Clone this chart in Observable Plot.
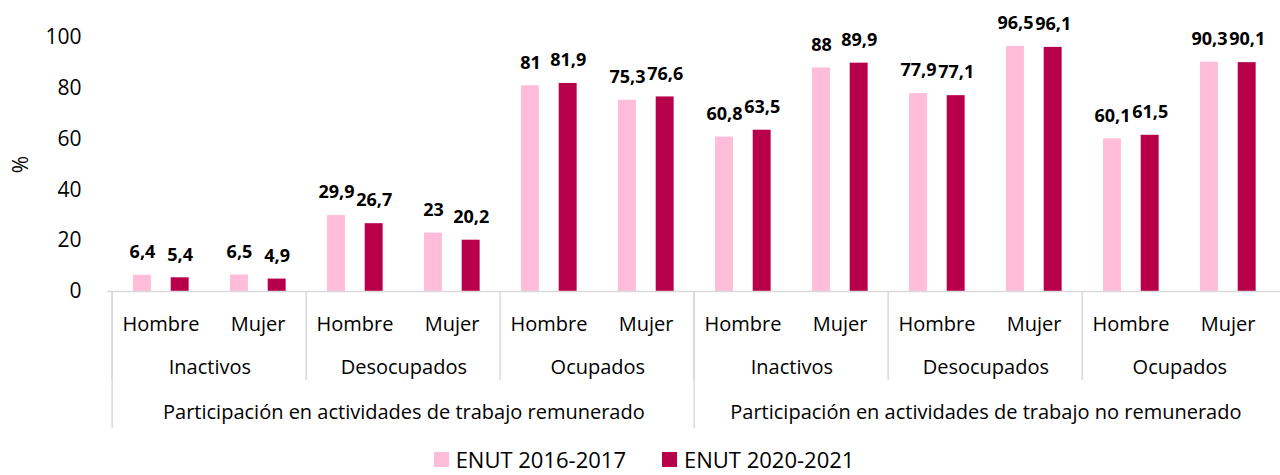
<!DOCTYPE html>
<html><head><meta charset="utf-8">
<script src="https://cdn.jsdelivr.net/npm/d3@7"></script>
<script src="https://cdn.jsdelivr.net/npm/@observablehq/plot@0.6"></script>
<style>
body{margin:0;background:#fff;font-family:"Open Sans",sans-serif;overflow:hidden;}
#chart svg{display:block;}
.lg-swatches-wrap{justify-content:center;padding-left:8px;padding-top:8px;margin:0;min-height:0;line-height:1;}
.lg-swatches{font-family:"Open Sans",sans-serif;font-size:22px;color:#000;margin:0;}
.lg-swatches-wrap .lg-swatch{margin-right:36px;line-height:1;}
.lg-swatches-wrap .lg-swatch:last-child{margin-right:0;}
.lg-swatch > svg{margin-right:7px;}
</style></head><body><div id="chart"></div><script>
const topLevels = ["Participación en actividades de trabajo remunerado", "Participación en actividades de trabajo no remunerado"];
const groups = ["Inactivos", "Desocupados", "Ocupados"];
const sexes = ["Hombre", "Mujer"];
const series = ["ENUT 2016-2017", "ENUT 2020-2021"];
const enut2016 = [6.4, 6.5, 29.9, 23, 81, 75.3, 60.8, 88, 77.9, 96.5, 60.1, 90.3];
const enut2020 = [5.4, 4.9, 26.7, 20.2, 81.9, 76.6, 63.5, 89.9, 77.1, 96.1, 61.5, 90.1];
const yTicks = [0, 20, 40, 60, 80, 100];
const colors = ["#ffbdd9", "#b8004a"];

const rows = [];
topLevels.forEach((t, ti) => groups.forEach((g, gi) => sexes.forEach((s, si) => {
  const i = rows.length;
  rows.push({key: `${ti}-${gi}-${si}`, top: t, group: g, sex: s, ti, gi, si, a: enut2016[i], b: enut2020[i]});
})));
const groupRows = rows.filter(d => d.si === 0);
const topStartRows = rows.filter(d => d.gi === 0 && d.si === 0);
const topRows = rows.filter(d => d.gi === 1 && d.si === 0);

const W = 1280, H = 440, ML = 107, MR = 0, MT = 37, MB = 149;
const bw = (W - ML - MR) / rows.length;
const half = bw / 2;
const barW = 18.7;
const aLeft = 21, bLeft = 58.7;
const fmt = v => String(v).replace(".", ",");
const font = "Open Sans";
const sep = "#d9d9d9";

const plot = Plot.plot({
  width: W, height: H,
  marginLeft: ML, marginRight: MR, marginTop: MT, marginBottom: MB,
  style: {fontFamily: font, fontSize: "20px", color: "#000", background: "#fff", overflow: "visible"},
  x: {type: "band", domain: rows.map(d => d.key), padding: 0, axis: null},
  y: {domain: [0, 100], ticks: yTicks},
  color: {domain: series, range: colors},
  marks: [
    Plot.axisY({ticks: yTicks, tickSize: 0, tickPadding: 26, fontSize: 21, label: "%", labelAnchor: "center", labelArrow: "none", labelOffset: 94}),
    Plot.barY(rows, {x: "key", y: "a", fill: colors[0], insetLeft: aLeft, insetRight: bw - aLeft - barW}),
    Plot.barY(rows, {x: "key", y: "b", fill: colors[1], insetLeft: bLeft, insetRight: bw - bLeft - barW}),
    Plot.text(rows, {x: "key", y: "a", text: d => fmt(d.a), dx: aLeft + barW / 2 - half, dy: -23, fontWeight: "bold", fontSize: 18, lineAnchor: "middle"}),
    Plot.text(rows, {x: "key", y: "b", text: d => fmt(d.b), dx: bLeft + barW / 2 - half, dy: -23, fontWeight: "bold", fontSize: 18, lineAnchor: "middle"}),
    Plot.ruleY([0], {stroke: sep, strokeWidth: 1.5}),
    Plot.ruleX(groupRows, {x: "key", dx: -half, stroke: sep, strokeWidth: 1.5, insetTop: H - MT - MB, insetBottom: -89}),
    Plot.ruleX(topStartRows, {x: "key", dx: -half, stroke: sep, strokeWidth: 1.5, insetTop: H - MT - MB, insetBottom: -137}),
    Plot.text(rows, {x: "key", text: "sex", frameAnchor: "bottom", dy: 33, lineAnchor: "middle", fontSize: 20}),
    Plot.text(groupRows, {x: "key", text: "group", frameAnchor: "bottom", dx: half, dy: 76, lineAnchor: "middle", fontSize: 20}),
    Plot.text(topRows, {x: "key", text: "top", frameAnchor: "bottom", dx: half, dy: 121, lineAnchor: "middle", fontSize: 20})
  ]
});
const chart = document.getElementById("chart");
chart.appendChild(plot);
const legend = Plot.legend({color: {domain: series, range: colors}, legend: "swatches", swatchSize: 15, className: "lg"});
chart.appendChild(legend);
</script></body></html>
